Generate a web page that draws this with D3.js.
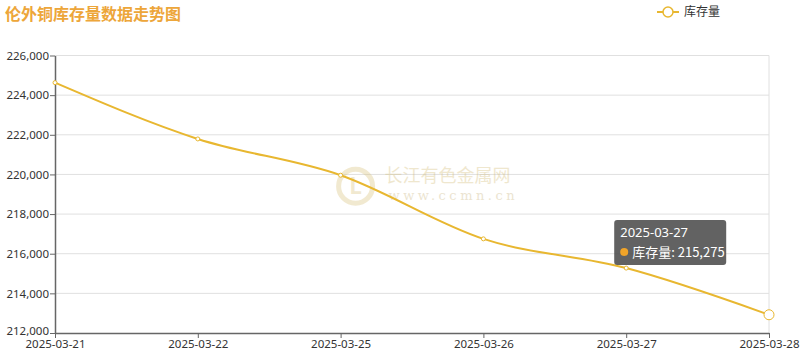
<!DOCTYPE html>
<html>
<head>
<meta charset="utf-8">
<script src="https://cdn.jsdelivr.net/npm/d3@7"></script>
<style>
  html, body { margin: 0; padding: 0; background: #fff; }
  svg { display: block; font-family: "Microsoft YaHei", "Noto Sans CJK SC", sans-serif; }
</style>
</head>
<body>
<svg width="800" height="359"></svg>
<script>
  // Chart data
  var dates = ["2025-03-21", "2025-03-22", "2025-03-25", "2025-03-26", "2025-03-27", "2025-03-28"]
    , stock = [224630, 221790, 219960, 216750, 215275, 212920]
    , yTicks = [212000, 214000, 216000, 218000, 220000, 222000, 224000, 226000]
  ;

  var margin = { left: 55, right: 31, top: 55.5, bottom: 26 }
    , width = 800
    , height = 359
    , lineColor = "#e8b730"
    , fmt = d3.format(",")
  ;

  var svg = d3.select("svg")
    , g = svg.append("g").attr("transform", "translate(" + [margin.left, margin.top] + ")")
    , innerW = width - margin.left - margin.right
    , innerH = height - margin.top - margin.bottom
  ;

  var x = d3.scalePoint().domain(dates).range([0, innerW])
    , y = d3.scaleLinear().domain([212000, 226000]).range([innerH, 0])
  ;

  // Title
  svg.append("text")
      .attr("x", 5).attr("y", 20)
      .attr("fill", "#eda63a")
      .attr("font-size", 16)
      .attr("font-weight", "bold")
      .text("伦外铜库存量数据走势图");

  // Legend
  var lg = svg.append("g").attr("transform", "translate(657,12)");
  lg.append("line").attr("x1", 0).attr("x2", 22).attr("y1", 0).attr("y2", 0)
      .attr("stroke", lineColor).attr("stroke-width", 2);
  lg.append("circle").attr("cx", 11).attr("cy", 0).attr("r", 5)
      .attr("fill", "#fff").attr("stroke", lineColor).attr("stroke-width", 1.5);
  lg.append("text").attr("x", 27).attr("y", 4).attr("font-size", 12).attr("fill", "#333").text("库存量");

  // Grid lines
  g.append("g").selectAll("line").data(yTicks.slice(1)).join("line")
      .attr("x1", 0).attr("x2", innerW)
      .attr("y1", function(d) { return y(d); }).attr("y2", function(d) { return y(d); })
      .attr("stroke", "#e0e0e0");
  g.append("line").attr("x1", innerW).attr("x2", innerW).attr("y1", 0).attr("y2", innerH)
      .attr("stroke", "#e0e0e0");

  // Watermark
  var wm = g.append("g").attr("transform", "translate(" + (x("2025-03-25") + 2) + "," + (y(219400)) + ")")
      .attr("opacity", 0.35);
  wm.append("circle").attr("cx", 13).attr("cy", 0).attr("r", 17)
      .attr("fill", "none").attr("stroke", "#d9c27a").attr("stroke-width", 5);
  wm.append("text").attr("x", 13).attr("y", 8).attr("text-anchor", "middle")
      .attr("font-size", 22).attr("font-weight", "bold").attr("fill", "#d9c27a").text("L");
  wm.append("text").attr("x", 42).attr("y", -4).attr("font-size", 18).attr("fill", "#d3bb75").text("长江有色金属网");
  wm.append("text").attr("x", 46).attr("y", 14).attr("font-size", 13).attr("letter-spacing", 3.5)
      .attr("font-family", "DejaVu Serif, serif").attr("fill", "#c8b27a").text("www.ccmn.cn");

  // Axes
  var yAxis = g.append("g").call(d3.axisLeft(y).tickValues(yTicks).tickFormat(fmt).tickSize(5).tickSizeOuter(0));
  yAxis.select(".domain").attr("stroke", "#666").attr("stroke-width", 1.5);
  yAxis.selectAll(".tick line").attr("stroke", "#666");
  yAxis.selectAll(".tick text").attr("fill", "#333").attr("font-size", 11.5)
      .attr("font-family", "Noto Sans, sans-serif").attr("x", -6);
  // lowest label sits a touch higher so it clears the date below it
  yAxis.selectAll(".tick text").filter(function(d) { return d === 212000; }).attr("dy", "0.1em");

  var xAxis = g.append("g").attr("transform", "translate(0," + innerH + ")")
      .call(d3.axisBottom(x).tickSize(5).tickSizeOuter(0));
  xAxis.select(".domain").attr("stroke", "#666").attr("stroke-width", 1.5);
  xAxis.selectAll(".tick line").attr("stroke", "#666");
  xAxis.selectAll(".tick text").attr("fill", "#333").attr("font-size", 11.5)
      .attr("font-family", "Noto Sans, sans-serif").attr("dy", "0.65em");

  // Line
  var line = d3.line()
      .x(function(d, i) { return x(dates[i]); })
      .y(function(d) { return y(d); })
      .curve(d3.curveMonotoneX);
  g.append("path").datum(stock)
      .attr("d", line)
      .attr("fill", "none")
      .attr("stroke", lineColor)
      .attr("stroke-width", 2);

  g.selectAll(".pt").data(stock).join("circle")
      .attr("class", "pt")
      .attr("cx", function(d, i) { return x(dates[i]); })
      .attr("cy", function(d) { return y(d); })
      .attr("r", function(d, i) { return i === stock.length - 1 ? 5 : 2; })
      .attr("fill", "#fff")
      .attr("stroke", lineColor)
      .attr("stroke-width", 1);

  // Tooltip for 2025-03-27
  var ti = 4
    , tx = x(dates[ti]) - 12
    , ty = y(stock[ti]) - 48
    , tip = g.append("g").attr("transform", "translate(" + [tx, ty] + ")");
  tip.append("rect").attr("width", 112).attr("height", 45).attr("rx", 3)
      .attr("fill", "rgba(70,70,70,0.85)");
  tip.append("text").attr("x", 6).attr("y", 17).attr("fill", "#fff").attr("font-size", 13)
      .attr("font-family", "Noto Sans, sans-serif").text(dates[ti]);
  tip.append("circle").attr("cx", 10).attr("cy", 32).attr("r", 4).attr("fill", "#f0a429");
  tip.append("text").attr("x", 18).attr("y", 37).attr("fill", "#fff").attr("font-size", 13)
      .text("库存量: " + fmt(stock[ti]));
</script>
</body>
</html>
